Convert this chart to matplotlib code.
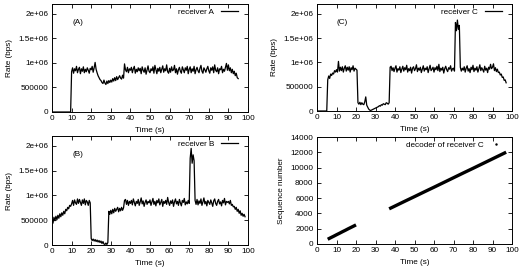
import numpy as np
import matplotlib
matplotlib.use("Agg")
import matplotlib.pyplot as plt
from matplotlib.lines import Line2D
from matplotlib import font_manager

names = {f.name for f in font_manager.fontManager.ttflist}
if 'Liberation Sans Narrow' in names:
    plt.rcParams['font.family'] = ['Liberation Sans Narrow', 'DejaVu Sans']
    FS = 7.3
else:
    plt.rcParams['font.family'] = ['Liberation Sans', 'DejaVu Sans']
    FS = 5.9

# ---------------- data (rates in kbps, sampled every 0.5 s) ----------------
rate_a_start = 0.0
rate_a = [
    0, 0, 0, 0, 0, 0, 0, 0, 0, 0, 0, 0, 0, 0, 0, 0, 0, 0, 0, 0,
    820, 900, 790, 880, 840, 930, 800, 870, 910, 780, 880, 830, 920, 800, 870, 820, 900, 850, 790, 890,
    860, 930, 810, 900, 1010, 870, 800, 740, 700, 660, 640, 600, 580, 650, 590, 560, 630, 580, 640, 600,
    650, 610, 680, 630, 700, 640, 720, 660, 700, 740, 690, 670, 750, 690, 980, 860, 820, 910, 800, 880,
    850, 910, 800, 880, 930, 790, 870, 820, 900, 840, 890, 780, 920, 850, 810, 900, 770, 860, 940, 830,
    800, 880, 840, 920, 790, 950, 860, 780, 890, 830, 910, 800, 870, 940, 810, 880, 840, 960, 820, 790,
    890, 810, 920, 840, 860, 950, 800, 880, 770, 860, 910, 830, 790, 920, 860, 800, 900, 850, 930, 780,
    870, 920, 800, 880, 830, 930, 780, 860, 910, 840, 800, 890, 950, 830, 790, 900, 860, 810, 880, 930,
    840, 790, 900, 850, 920, 800, 960, 850, 820, 900, 780, 880, 860, 930, 800, 870, 830, 910, 990, 850,
    960, 840, 900, 800, 870, 780, 830, 740, 790, 700, 680,
]

rate_b_start = 0.0
rate_b = [
    500, 440, 560, 490, 580, 510, 600, 540, 630, 570, 650, 600, 680, 630, 720, 690, 760, 730, 800, 780,
    830, 900, 800, 910, 850, 820, 930, 840, 920, 860, 800, 910, 840, 930, 810, 900, 870, 800, 900, 850,
    130, 90, 120, 80, 110, 70, 100, 60, 90, 50, 80, 30, 70, 20, 10, 40, 10, 50, 680, 620,
    700, 630, 720, 650, 740, 680, 720, 760, 670, 740, 690, 760, 700, 750, 900, 920, 820, 900, 800, 880,
    840, 900, 810, 930, 860, 790, 880, 840, 920, 800, 870, 950, 830, 890, 780, 860, 910, 820, 880, 850,
    910, 800, 870, 940, 820, 880, 790, 900, 850, 930, 810, 860, 920, 780, 880, 840, 900, 820, 960, 860,
    800, 890, 840, 910, 780, 870, 930, 830, 880, 800, 920, 850, 790, 900, 860, 940, 810, 870, 830, 900,
    840, 1750, 1950, 1650, 1820, 1700, 900, 820, 920, 810,
    890, 840, 930, 800, 870, 950, 830, 880, 790, 900, 860, 820, 910, 850, 780, 890, 930, 840, 800, 880,
    920, 830, 870, 790, 900, 850, 940, 810, 880, 860,
    880, 830, 900, 800, 820, 770, 780, 720, 760, 680, 720, 640, 690, 600, 640, 580, 620, 570,
]

rate_c_start = 0.0
rate_c = [
    0, 0, 0, 0, 0, 0, 0, 0, 0, 0, 0, 640, 720, 670, 760, 730, 780, 760, 830, 800,
    850, 800, 1020, 820, 900, 830, 910, 800, 880, 930, 820, 900, 840, 910, 800, 890, 850, 930, 820, 880,
    860, 840, 170, 140, 180, 130, 170, 140, 130, 190, 290, 120, 80, 40, 20, 10, 20, 30, 40, 50,
    60, 70, 80, 90, 110, 100, 130, 120, 150, 140, 130, 170, 160, 140, 170, 900, 920, 830, 890, 810,
    880, 930, 800, 870, 840, 910, 790, 860, 920, 820, 890, 850, 940, 800, 870, 830, 900, 780, 880, 910,
    830, 870, 950, 810, 880, 840, 900, 790, 860, 930, 820, 880, 850, 910, 790, 870, 940, 830, 860, 900,
    800, 890, 850, 920, 830, 960, 810, 880, 840, 900, 780, 870, 920, 850, 810, 890, 860, 930, 820, 870,
    880, 820, 1820, 1650, 1870, 1680, 1760, 900, 820, 880,
    840, 910, 800, 880, 930, 820, 870, 790, 900, 850, 940, 810, 880, 840, 910, 800, 870, 950, 830, 890,
    850, 800, 920, 840, 880, 790, 900, 860, 960, 870,
    900, 970, 830, 890, 810, 860, 790, 800, 740, 760, 690, 700, 630, 640, 580,
]

seq_t1 = [5.5, 7, 8.5, 10, 11.5, 13, 14.5, 16, 17.5, 19, 20]
seq_s1 = [620, 820, 1010, 1210, 1400, 1600, 1790, 1990, 2180, 2370, 2500]
seq_t2 = [37, 40, 45, 50, 55, 60, 65, 70, 75, 80, 85, 90, 95, 97]
seq_s2 = [4600, 4970, 5590, 6200, 6820, 7430, 8050, 8670, 9290, 9900, 10520, 11140, 11760, 12010]

rate_ticks = [0, 500000, 1000000, 1500000, 2000000]
rate_ticklabels = ['0', '500000', '1e+06', '1.5e+06', '2e+06']
time_ticks = list(range(0, 101, 10))
seq_ticks = list(range(0, 14001, 2000))

W, H = 520, 271
fig = plt.figure(figsize=(W / 100, H / 100), dpi=100)


def px_axes(l, t, r, b):
    return fig.add_axes([l / W, 1 - b / H, (r - l) / W, (b - t) / H])


def style(ax):
    ax.set_xlim(0, 100)
    ax.set_xticks(time_ticks)
    ax.tick_params(direction='in', top=True, right=True, labelsize=FS,
                   length=3, width=0.6, pad=2.5)
    for s in ax.spines.values():
        s.set_linewidth(0.7)
    ax.set_xlabel('Time (s)', fontsize=FS, labelpad=3)


def add_legend(ax, handles, labels, x_anchor, textpad):
    ax.legend(handles, labels, loc='upper right', bbox_to_anchor=(x_anchor, 0.995),
              frameon=False, markerfirst=False, fontsize=FS,
              handlelength=2.1, handletextpad=textpad, borderaxespad=0.2,
              borderpad=0.2)


def rate_panel(ax, start, vals, label, tag):
    t = start + 0.5 * np.arange(len(vals))
    ln, = ax.plot(t, np.array(vals) * 1000, color='black', lw=0.9)
    style(ax)
    ax.set_ylim(0, 2.2e6)
    ax.set_yticks(rate_ticks)
    ax.set_yticklabels(rate_ticklabels)
    ax.set_ylabel('Rate (bps)', fontsize=FS, labelpad=4)
    ax.text(13, 1.82e6, tag, fontsize=FS, ha='center', va='center')
    add_legend(ax, [ln], [label], 0.965, 0.8)


axA = px_axes(52, 4, 248, 112)
rate_panel(axA, rate_a_start, rate_a, 'receiver A', '(A)')
axC = px_axes(317, 4, 512, 111)
rate_panel(axC, rate_c_start, rate_c, 'receiver C', '(C)')
axB = px_axes(52, 136, 248, 245)
rate_panel(axB, rate_b_start, rate_b, 'receiver B', '(B)')

axD = px_axes(317, 137, 512, 244)
axD.plot(seq_t1, seq_s1, color='black', lw=2.4, solid_capstyle='butt')
axD.plot(seq_t2, seq_s2, color='black', lw=2.4, solid_capstyle='butt')
style(axD)
axD.set_ylim(0, 14000)
axD.set_yticks(seq_ticks)
axD.set_ylabel('Sequence number', fontsize=FS, labelpad=4)
proxy = Line2D([], [], color='black', marker='.', markersize=1.5, linestyle='none')
add_legend(axD, [proxy], ['decoder of receiver C'], 0.978, 0.5)

fig.savefig('out.png', dpi=100)
